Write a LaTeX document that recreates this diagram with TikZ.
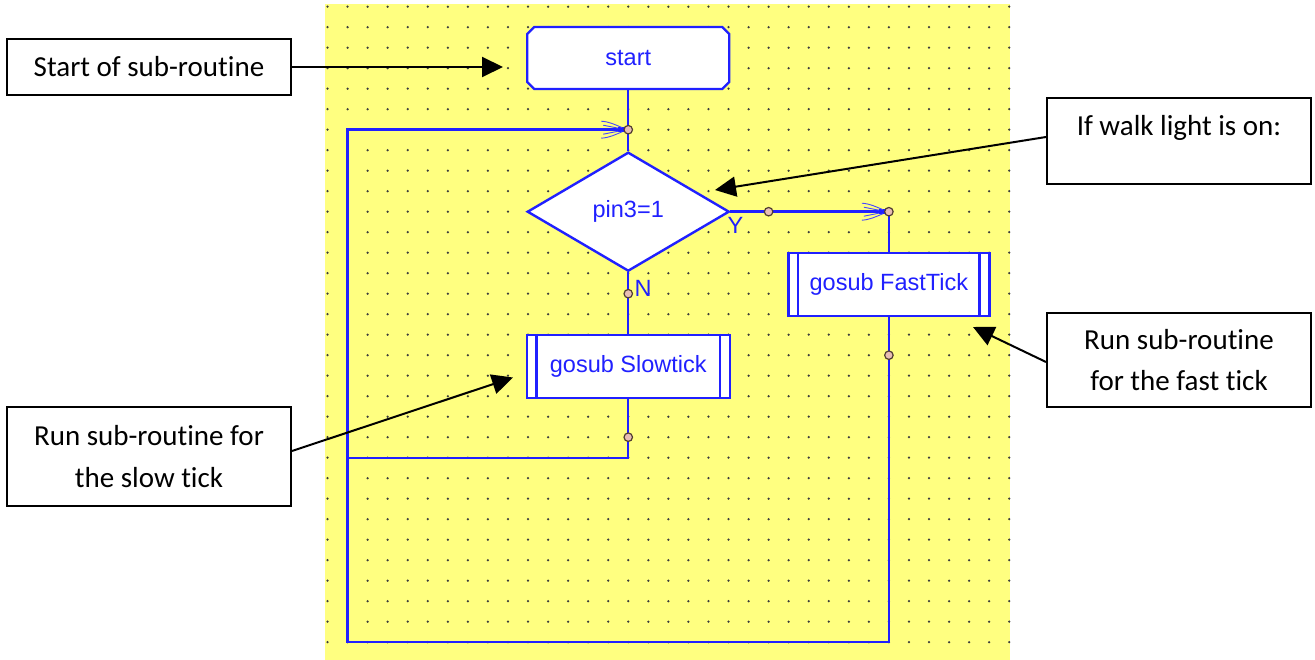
\documentclass[tikz,border=0pt]{standalone}
\usepackage{fontspec}
\setmainfont{Carlito}[Ligatures=NoCommon]
\newfontfamily\flowfont{Liberation Sans}
\usetikzlibrary{shapes.geometric,arrows.meta,calc}

\definecolor{gridyellow}{RGB}{255,255,128}
\definecolor{flowblue}{RGB}{32,32,255}
\definecolor{featherblue}{RGB}{70,70,255}
\definecolor{dotgray}{RGB}{60,60,60}
\definecolor{joinfill}{RGB}{232,190,180}
\definecolor{joinedge}{RGB}{80,60,50}

\begin{document}
\begin{tikzpicture}[x=1pt,y=-1pt,
  flowline/.style={draw=flowblue,line width=2.4pt},
  flowtext/.style={font=\flowfont\fontsize{23.5}{28}\selectfont,text=flowblue},
  procbox/.style={flowline,fill=white,rectangle,inner sep=0pt,flowtext,minimum height=63pt},
  decisionbox/.style={flowline,fill=white,diamond,inner sep=0pt,flowtext,minimum width=202pt,minimum height=119pt},
  calloutbox/.style={draw=black,line width=2pt,fill=white,inner sep=0pt,align=center,
    font=\fontsize{29}{41.5}\selectfont},
  calloutarrow/.style={draw=black,line width=2pt,-{Triangle[length=21pt,width=20pt]}},
  junctiondot/.style={circle,draw=joinedge,fill=joinfill,line width=1.2pt,minimum size=8.5pt,inner sep=0pt},
  feather/.style={draw=featherblue,line width=0.9pt},
]
\useasboundingbox (0,0) rectangle (1315,660);

% dotted drawing sheet
\fill[gridyellow] (325,4) rectangle (1010,660);
\foreach \i in {0,...,34}{
  \foreach \j in {0,...,31}{
    \fill[dotgray] ({327.5+20.05*\i},{6.7+20.5*\j}) circle (1.25pt);
  }
}

% terminal box with cut corners
\draw[flowline,fill=white] (534.25,27) -- (722.25,27) -- (729.25,34) -- (729.25,82)
  -- (722.25,89) -- (534.25,89) -- (527.25,82) -- (527.25,34) -- cycle;
\node[flowtext,minimum width=202pt,minimum height=62pt,inner sep=0pt] (start) at (628.25,58) {start};

% decision and subroutine calls
\node[decisionbox] (test) at (628.25,211.7) {pin3=1};
\node[procbox,minimum width=203pt] (slow) at (628.25,366.5) {gosub Slowtick};
\draw[flowline] ([xshift=11pt]slow.north west) -- ([xshift=11pt]slow.south west);
\draw[flowline] ([xshift=-11pt]slow.north east) -- ([xshift=-11pt]slow.south east);
\node[procbox,minimum width=201pt] (fast) at (888.9,284.5) {gosub FastTick};
\draw[flowline] ([xshift=11pt]fast.north west) -- ([xshift=11pt]fast.south west);
\draw[flowline] ([xshift=-11pt]fast.north east) -- ([xshift=-11pt]fast.south east);

% routing points
\coordinate (loopin) at (628.25,129.7);
\coordinate (notest) at (628.25,293.7);
\coordinate (yestest) at (768.6,211.7);
\coordinate (fastin) at (888.9,211.7);
\coordinate (fastout) at (888.9,355.2);
\coordinate (slowout) at (628.25,437.2);
\coordinate (slowback) at (628.25,457.7);
\coordinate (sideslow) at (347.55,457.7);
\coordinate (bottomright) at (888.9,642.2);
\coordinate (bottomleft) at (347.55,642.2);
\coordinate (topleft) at (347.55,129.7);

% flow lines
\draw[flowline] (start.south) -- (loopin) -- (test.north);
\draw[flowline] (test.east) -- (yestest) -- (fastin) -- (fast.north);
\draw[flowline] (test.south) -- (notest) -- (slow.north);
\draw[flowline] (slow.south) -- (slowout) -- (slowback) -- (sideslow);
\draw[flowline] (fast.south) -- (fastout) -- (bottomright) -- (bottomleft) -- (topleft) -- (loopin);

% merge arrows
\foreach \p in {loopin,fastin}{
  \begin{scope}[shift={(\p)}]
    \fill[flowblue] (-10,-2.8) rectangle (-3,2.8);
    \draw[feather] (-27,-8.5) .. controls (-19,-8) and (-13,-5) .. (-6,-2);
    \draw[feather] (-27,8.5) .. controls (-19,8) and (-13,5) .. (-6,2);
    \draw[feather] (-25,-4.5) -- (-10,-1.5);
    \draw[feather] (-25,4.5) -- (-10,1.5);
  \end{scope}
}

% junction points
\foreach \p in {loopin,notest,yestest,fastin,fastout,slowout}{
  \node[junctiondot] (dot-\p) at (\p) {};
}

% branch labels
\node[flowtext,inner sep=0pt] (ylabel) at (735.5,225) {Y};
\node[flowtext,inner sep=0pt] (nlabel) at (643,288) {N};

% explanatory notes
\node[calloutbox,minimum width=284pt,minimum height=56pt] (c1) at (149,67) {Start of sub-routine};
\node[calloutbox,minimum width=264pt,minimum height=86pt,text height=20pt,text depth=30pt] (c2) at (1179,141) {If walk light is on:};
\node[calloutbox,minimum width=264pt,minimum height=94pt] (c3) at (1179,360) {Run sub-routine\\for the fast tick};
\node[calloutbox,minimum width=284pt,minimum height=99pt] (c4) at (149,456.5) {Run sub-routine for\\the slow tick};

\coordinate (tipstart) at (503,67);
\coordinate (tiptest) at (715,190);
\coordinate (tipfast) at (973,327);
\coordinate (tipslow) at (513,377.5);

\draw[calloutarrow] (c1.east) -- (tipstart);
\draw[calloutarrow] ([yshift=4pt]c2.west) -- (tiptest);
\draw[calloutarrow] ([yshift=-2pt]c3.west) -- (tipfast);
\draw[calloutarrow] ([yshift=5.5pt]c4.east) -- (tipslow);
\end{tikzpicture}
\end{document}
